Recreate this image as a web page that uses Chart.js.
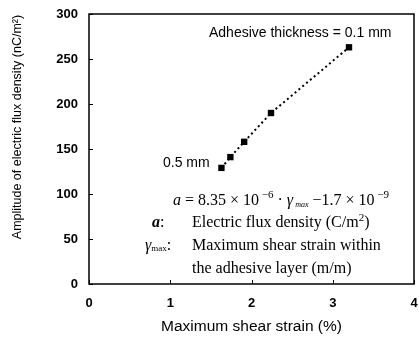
<!DOCTYPE html>
<html>
<head>
<meta charset="utf-8">
<script src="https://cdn.jsdelivr.net/npm/chart.js@4.4.1/dist/chart.umd.min.js"></script>
<style>
  html, body { margin: 0; padding: 0; background: #fff; }
  #wrap { width: 419px; height: 339px; }
</style>
</head>
<body>
<div id="wrap"><canvas id="fluxChart"></canvas></div>
<script>
// shear strain (%) vs amplitude of electric flux density (nC/m2)
const shearStrain = [1.63, 1.74, 1.91, 2.24, 3.20];
const fluxAmplitude = [129, 141, 158, 190, 263];
const xTicks = [0, 1, 2, 3, 4];
const yTicks = [0, 50, 100, 150, 200, 250, 300];

const SANS = '"Liberation Sans", Arial, sans-serif';
const SERIF = '"Liberation Serif", "Times New Roman", serif';

// draws a run of text pieces: [text, font, dy]
function drawRuns(ctx, x, y, runs) {
    let cx = x;
    runs.forEach(r => {
        ctx.font = r[1];
        ctx.fillText(r[0], cx, y + (r[2] || 0));
        cx += ctx.measureText(r[0]).width;
    });
}

const decorations = {
    id: 'decorations',
    afterDraw(chart) {
        const ctx = chart.ctx;
        const area = chart.chartArea;
        const xs = chart.scales.x;
        const ys = chart.scales.y;
        ctx.save();
        // frame
        ctx.strokeStyle = '#000';
        ctx.lineWidth = 1.5;
        ctx.strokeRect(area.left, area.top, area.right - area.left, area.bottom - area.top);
        // inner tick marks
        ctx.lineWidth = 1;
        ctx.beginPath();
        yTicks.forEach(v => {
            const py = Math.round(ys.getPixelForValue(v)) + 0.5;
            ctx.moveTo(area.left, py);
            ctx.lineTo(area.left + 4, py);
        });
        xTicks.forEach(v => {
            const px = Math.round(xs.getPixelForValue(v)) + 0.5;
            ctx.moveTo(px, area.bottom);
            ctx.lineTo(px, area.bottom - 4);
        });
        ctx.stroke();

        ctx.fillStyle = '#000';
        ctx.textBaseline = 'middle';
        ctx.textAlign = 'left';

        // y axis title, sits a bit above centre in the original
        ctx.save();
        ctx.translate(18, 127);
        ctx.rotate(-Math.PI / 2);
        ctx.textAlign = 'center';
        ctx.font = '12.5px ' + SANS;
        ctx.fillText('Amplitude of electric flux density (nC/m\u00b2)', 0, 0);
        ctx.restore();

        ctx.font = '14px ' + SANS;
        ctx.fillText('Adhesive thickness = 0.1 mm', 209, 33);
        ctx.fillText('0.5 mm', 163, 163);

        const it = 'italic 16px ' + SERIF;
        const rm = '16px ' + SERIF;
        const sup = '11px ' + SERIF;
        const sub = 'italic 8px ' + SERIF;
        drawRuns(ctx, 173, 201, [
            ['a', it], [' = 8.35 \u00d7 10', rm], [' \u22126', sup, -6],
            [' \u00b7 ', rm], ['\u03b3', it], [' max', sub, 4],
            [' \u22121.7 \u00d7 10', rm], [' \u22129', sup, -6]
        ]);

        drawRuns(ctx, 152, 223, [['a', 'bold italic 16px ' + SERIF], [':', rm]]);
        drawRuns(ctx, 192, 223, [['Electric flux density (C/m', rm], ['2', sup, -5], [')', rm]]);
        drawRuns(ctx, 145, 246, [['\u03b3', it], ['max', '9px ' + SERIF, 3], [':', rm]]);
        ctx.font = rm;
        ctx.fillText('Maximum shear strain within', 192, 246);
        ctx.fillText('the adhesive layer (m/m)', 192, 269);
        ctx.restore();
    }
};

new Chart(document.getElementById('fluxChart'), {
    type: 'scatter',
    data: {
        datasets: [{
            data: shearStrain.map((x, i) => ({ x: x, y: fluxAmplitude[i] })),
            showLine: true,
            borderColor: '#000',
            borderWidth: 2,
            borderDash: [2, 3],
            backgroundColor: '#000',
            pointStyle: 'rect',
            pointRadius: 4.5,
            pointBorderWidth: 0
        }]
    },
    options: {
        responsive: true,
        maintainAspectRatio: false,
        animation: false,
        layout: { padding: { top: 14, right: 5, left: 0, bottom: 0 } },
        plugins: { legend: { display: false }, tooltip: { enabled: false } },
        scales: {
            x: {
                type: 'linear',
                min: 0, max: 4,
                afterBuildTicks: s => { s.ticks = xTicks.map(v => ({ value: v })); },
                afterFit: s => { s.height = 55; s.paddingLeft = 0; s.paddingRight = 0; },
                grid: { display: false },
                border: { display: false },
                ticks: { color: '#000', padding: 4, font: { family: SANS, size: 13, weight: 'bold' } },
                title: {
                    display: true,
                    text: 'Maximum shear strain (%)',
                    color: '#000',
                    padding: { top: 0, bottom: 3 },
                    font: { family: SANS, size: 15.5 }
                }
            },
            y: {
                min: 0, max: 300,
                afterBuildTicks: s => { s.ticks = yTicks.map(v => ({ value: v })); },
                afterFit: s => { s.width = 89; s.paddingTop = 0; s.paddingBottom = 0; },
                grid: { display: false },
                border: { display: false },
                ticks: { color: '#000', padding: 3, font: { family: SANS, size: 13, weight: 'bold' } },
                title: { display: false }
            }
        }
    },
    plugins: [decorations]
});
</script>
</body>
</html>
